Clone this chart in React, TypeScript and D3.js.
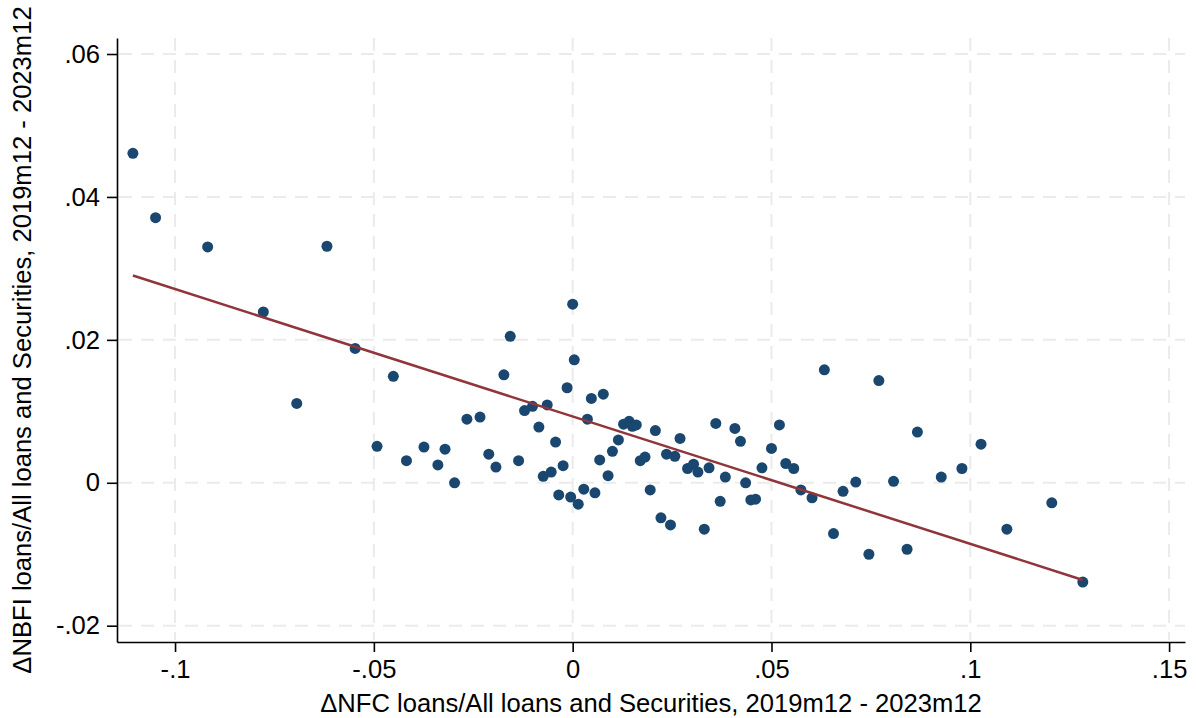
import React, { useEffect, useRef } from 'react'
import * as d3 from 'd3'

// ΔNFC share (x) and ΔNBFI share (y), one entry per bank
const nfcChange = [
  -0.1106, -0.1049, -0.0918, -0.0778, -0.0694, -0.0618, -0.0547, -0.0451, -0.0492, -0.0418,
  -0.0374, -0.0339, -0.0321, -0.0297, -0.0266, -0.0233, -0.0211, -0.0193, -0.0173, -0.0157,
  -0.0136, -0.0121, -0.0101, -0.0085, -0.0074, -0.0064, -0.0054, -0.0043, -0.0035, -0.0024,
  -0.0014, -0.0005, 0.0, 0.0004, 0.0014, 0.0028, 0.0037, 0.0047, 0.0056, 0.0068,
  0.0077, 0.0089, 0.01, 0.0115, 0.0128, 0.0142, 0.015, 0.016, 0.017, 0.0182,
  0.0195, 0.0208, 0.0222, 0.0236, 0.0246, 0.0257, 0.027, 0.0289, 0.0304, 0.0315,
  0.0331, 0.0343, 0.036, 0.0371, 0.0384, 0.0408, 0.0422, 0.0435, 0.0448, 0.046,
  0.0476, 0.05, 0.052, 0.0536, 0.0556, 0.0574, 0.0602, 0.0633, 0.0656, 0.068,
  0.0712, 0.0745, 0.077, 0.0807, 0.0841, 0.0867, 0.0927, 0.0979, 0.1027, 0.1092,
  0.1205, 0.1283,
]
const nbfiChange = [
  0.0461, 0.0371, 0.033, 0.0239, 0.0111, 0.0331, 0.0188, 0.0149, 0.0051, 0.0031,
  0.005, 0.0025, 0.0047, 0.0, 0.0089, 0.0092, 0.004, 0.0022, 0.0151, 0.0205,
  0.0031, 0.0101, 0.0107, 0.0078, 0.0009, 0.0109, 0.0015, 0.0057, -0.0017, 0.0024,
  0.0133, -0.002, 0.025, 0.0172, -0.003, -0.0009, 0.0089, 0.0118, -0.0014, 0.0032,
  0.0124, 0.001, 0.0044, 0.006, 0.0082, 0.0086, 0.0079, 0.0081, 0.0031, 0.0036,
  -0.001, 0.0073, -0.0049, 0.004, -0.0059, 0.0037, 0.0062, 0.002, 0.0026, 0.0015,
  -0.0065, 0.0021, 0.0083, -0.0026, 0.0008, 0.0076, 0.0058, 0.0, -0.0024, -0.0023,
  0.0021, 0.0048, 0.0081, 0.0027, 0.002, -0.001, -0.0021, 0.0158, -0.0071, -0.0012,
  0.0001, -0.01, 0.0143, 0.0002, -0.0093, 0.0071, 0.0008, 0.002, 0.0054, -0.0065,
  -0.0028, -0.0139,
]

// linear fit
const fitIntercept = 0.00928
const fitSlope = -0.1783

const xTicks = [-0.1, -0.05, 0, 0.05, 0.1, 0.15]
const xTickLabels = ['-.1', '-.05', '0', '.05', '.1', '.15']
const yTicks = [-0.02, 0, 0.02, 0.04, 0.06]
const yTickLabels = ['-.02', '0', '.02', '.04', '.06']

const xTitle = 'ΔNFC loans/All loans and Securities, 2019m12 - 2023m12'
const yTitle = 'ΔNBFI loans/All loans and Securities, 2019m12 - 2023m12'

const App = () => {
  const refSvg = useRef<SVGSVGElement>(null)

  useEffect(() => {
    const width = 1196
    const height = 718
    const left = 117
    const right = 1185
    const top = 38
    const bottom = 642
    const font = '"Liberation Sans", Arial, sans-serif'
    const fs = 25.6

    const svg = d3.select(refSvg.current)
    svg.selectAll('*').remove()
    svg.attr('width', width).attr('height', height)

    svg.append('rect').attr('width', width).attr('height', height).attr('fill', '#fff')

    const x = d3.scaleLinear().domain([-0.1146, 0.154]).range([left, right])
    const y = d3.scaleLinear().domain([-0.02228, 0.06224]).range([bottom, top])

    // grid
    const grid = svg.append('g').attr('stroke', '#ebebeb').attr('stroke-width', 2).attr('stroke-dasharray', '13,9')
    grid
      .selectAll('.gy')
      .data(yTicks)
      .enter()
      .append('line')
      .attr('x1', left + 2)
      .attr('x2', right)
      .attr('y1', (d) => y(d))
      .attr('y2', (d) => y(d))
    grid
      .selectAll('.gx')
      .data(xTicks)
      .enter()
      .append('line')
      .attr('x1', (d) => x(d))
      .attr('x2', (d) => x(d))
      .attr('y1', top)
      .attr('y2', bottom - 2)

    // points
    const pts = nfcChange.map((v, i) => ({ x: v, y: nbfiChange[i] }))
    svg
      .append('g')
      .selectAll('circle')
      .data(pts)
      .enter()
      .append('circle')
      .attr('cx', (d) => x(d.x))
      .attr('cy', (d) => y(d.y))
      .attr('r', 5.5)
      .attr('fill', '#1a476f')

    // fitted line
    const [xMin, xMax] = d3.extent(nfcChange) as [number, number]
    const line = d3
      .line<number>()
      .x((d) => x(d))
      .y((d) => y(fitIntercept + fitSlope * d))
    svg
      .append('path')
      .datum([xMin, xMax])
      .attr('d', line)
      .attr('fill', 'none')
      .attr('stroke', '#90353b')
      .attr('stroke-width', 2.5)

    // x axis
    const xAxis = svg
      .append('g')
      .attr('transform', `translate(0,${bottom})`)
      .call(
        d3
          .axisBottom(x)
          .tickValues(xTicks)
          .tickSize(10)
          .tickSizeOuter(0)
          .tickPadding(6)
          .tickFormat((_, i) => xTickLabels[i])
      )
    xAxis.select('.domain').attr('stroke', '#000').attr('stroke-width', 1.6)
    xAxis.selectAll('.tick line').attr('stroke', '#000').attr('stroke-width', 1.6)
    xAxis.selectAll('.tick text').attr('font-family', font).attr('font-size', fs).attr('fill', '#000').attr('dy', '0.78em')

    // y axis
    const yAxis = svg
      .append('g')
      .attr('transform', `translate(${left},0)`)
      .call(
        d3
          .axisLeft(y)
          .tickValues(yTicks)
          .tickSize(10)
          .tickSizeOuter(0)
          .tickPadding(7)
          .tickFormat((_, i) => yTickLabels[i])
      )
    yAxis.select('.domain').attr('stroke', '#000').attr('stroke-width', 1.6)
    yAxis.selectAll('.tick line').attr('stroke', '#000').attr('stroke-width', 1.6)
    yAxis.selectAll('.tick text').attr('font-family', font).attr('font-size', fs).attr('fill', '#000')

    // titles
    svg
      .append('text')
      .attr('x', (left + right) / 2)
      .attr('y', 712)
      .attr('text-anchor', 'middle')
      .attr('font-family', font)
      .attr('font-size', fs)
      .text(xTitle)
    svg
      .append('text')
      .attr('transform', `translate(31,${(top + bottom) / 2}) rotate(-90)`)
      .attr('text-anchor', 'middle')
      .attr('font-family', font)
      .attr('font-size', fs)
      .text(yTitle)
  })

  return <svg ref={refSvg} style={{ position: 'absolute', left: 0, top: 0 }} />
}

export default App
